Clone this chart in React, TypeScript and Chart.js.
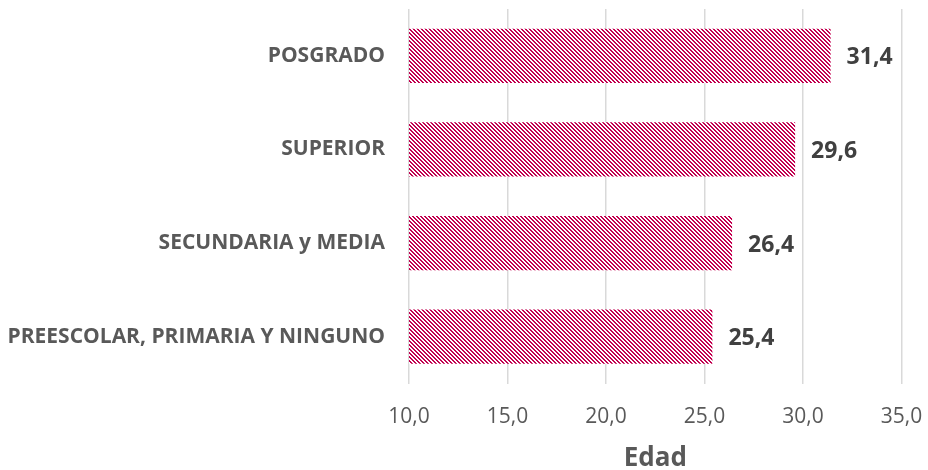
import React, { useEffect, useRef } from "react";
import { Chart, registerables } from "chart.js";

Chart.register(...registerables);

const categories = [
  "POSGRADO",
  "SUPERIOR",
  "SECUNDARIA y MEDIA",
  "PREESCOLAR, PRIMARIA Y NINGUNO",
];
const values = [31.4, 29.6, 26.4, 25.4];
const xMin = 10;
const xMax = 35;
const xStep = 5;
const axisTitle = "Edad";

const BAR_COLOR = "#C2004F";
const FONT = "'Open Sans', 'Noto Sans', sans-serif";

function fmt(v: number) {
  return v.toFixed(1).replace(".", ",");
}

function makePattern(): CanvasPattern | string {
  const c = document.createElement("canvas");
  c.width = 4;
  c.height = 4;
  const ctx = c.getContext("2d");
  if (!ctx) return BAR_COLOR;
  ctx.fillStyle = "#ffffff";
  ctx.fillRect(0, 0, 4, 4);
  ctx.fillStyle = BAR_COLOR;
  for (let r = 0; r < 4; r++) {
    ctx.fillRect(r % 4, r, 1, 1);
    ctx.fillRect((r + 1) % 4, r, 1, 1);
  }
  const p = ctx.createPattern(c, "repeat");
  return p || BAR_COLOR;
}

const extras = {
  id: "extras",
  afterDatasetsDraw(chart: any) {
    const ctx = chart.ctx;
    const meta = chart.getDatasetMeta(0);
    ctx.save();
    ctx.font = `bold 23px ${FONT}`;
    ctx.fillStyle = "#404040";
    ctx.textAlign = "left";
    ctx.textBaseline = "middle";
    meta.data.forEach((bar: any, i: number) => {
      ctx.fillText(fmt(values[i]), bar.x + 16, bar.y + 2);
    });
    const ca = chart.chartArea;
    ctx.font = `bold 26px ${FONT}`;
    ctx.fillStyle = "#595959";
    ctx.textAlign = "center";
    ctx.fillText(axisTitle, (ca.left + ca.right) / 2, 459);
    ctx.restore();
  },
};

export default function App() {
  const ref = useRef<HTMLCanvasElement | null>(null);
  useEffect(() => {
    if (!ref.current) return;
    const chart = new Chart(ref.current, {
      type: "bar",
      data: {
        labels: categories,
        datasets: [
          {
            data: values,
            backgroundColor: makePattern() as any,
            borderWidth: 0,
            categoryPercentage: 1,
            barPercentage: 0.58,
          },
        ],
      },
      options: {
        indexAxis: "y",
        animation: false,
        responsive: false,
        layout: { padding: { top: 9, right: 26.5, bottom: 0, left: 0 } },
        plugins: {
          legend: { display: false },
          tooltip: { enabled: false },
        },
        scales: {
          x: {
            min: xMin,
            max: xMax,
            ticks: {
              stepSize: xStep,
              padding: 21,
              maxRotation: 0,
              color: "#595959",
              font: { family: FONT, size: 21 },
              callback: (v: any) => fmt(Number(v)),
            },
            grid: {
              color: "#D9D9D9",
              lineWidth: 1.5,
              drawTicks: false,
            },
            border: { display: false },
            afterFit: (scale: any) => {
              scale.height = 86.5;
              scale.paddingLeft = 0;
              scale.paddingRight = 0;
            },
          },
          y: {
            grid: { display: false, drawTicks: false },
            border: { display: false },
            ticks: {
              padding: 24,
              color: "#595959",
              font: { family: FONT, size: 21, weight: "bold" },
            },
            afterFit: (scale: any) => {
              scale.width = 409;
              scale.paddingTop = 0;
              scale.paddingBottom = 0;
            },
          },
        },
      },
      plugins: [extras],
    } as any);
    return () => chart.destroy();
  }, []);
  return (
    <div style={{ position: "absolute", left: 0, top: 0, width: 928, height: 470 }}>
      <canvas ref={ref} width={928} height={470} style={{ display: "block" }} />
    </div>
  );
}
